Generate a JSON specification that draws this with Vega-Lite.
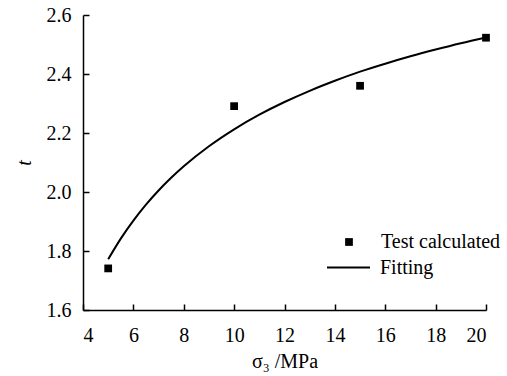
{
  "$schema": "https://vega.github.io/schema/vega-lite/v6.json",
  "width": 403,
  "height": 295,
  "autosize": {"type": "none"},
  "padding": {"left": 83, "top": 15, "right": 21, "bottom": 66},
  "background": "white",
  "config": {
    "view": {"stroke": null},
    "font": "Liberation Serif",
    "axis": {
      "domainColor": "black",
      "domainWidth": 1.5,
      "tickColor": "black",
      "tickWidth": 1.5,
      "tickSize": -6,
      "labelFont": "Liberation Serif",
      "labelFontSize": 20,
      "labelColor": "black",
      "grid": false,
      "titleFont": "Liberation Serif",
      "titleFontSize": 20,
      "titleColor": "black",
      "titleFontWeight": "normal"
    },
    "legend": {
      "labelFont": "Liberation Serif",
      "labelFontSize": 20,
      "labelColor": "black"
    }
  },
  "datasets": {
    "test": [
      {"sigma3": 5, "t": 1.741, "series": "Test calculated"},
      {"sigma3": 10, "t": 2.291, "series": "Test calculated"},
      {"sigma3": 15, "t": 2.36, "series": "Test calculated"},
      {"sigma3": 20, "t": 2.523, "series": "Test calculated"}
    ],
    "fit": [
      {"sigma3": 5, "t": 1.772, "series": "Fitting"},
      {"sigma3": 5.5, "t": 1.842, "series": "Fitting"},
      {"sigma3": 6, "t": 1.903, "series": "Fitting"},
      {"sigma3": 6.5, "t": 1.957, "series": "Fitting"},
      {"sigma3": 7, "t": 2.005, "series": "Fitting"},
      {"sigma3": 7.5, "t": 2.048, "series": "Fitting"},
      {"sigma3": 8, "t": 2.087, "series": "Fitting"},
      {"sigma3": 9, "t": 2.155, "series": "Fitting"},
      {"sigma3": 10, "t": 2.2125, "series": "Fitting"},
      {"sigma3": 11, "t": 2.262, "series": "Fitting"},
      {"sigma3": 12, "t": 2.305, "series": "Fitting"},
      {"sigma3": 13, "t": 2.343, "series": "Fitting"},
      {"sigma3": 14, "t": 2.377, "series": "Fitting"},
      {"sigma3": 15, "t": 2.408, "series": "Fitting"},
      {"sigma3": 16, "t": 2.435, "series": "Fitting"},
      {"sigma3": 17, "t": 2.46, "series": "Fitting"},
      {"sigma3": 18, "t": 2.483, "series": "Fitting"},
      {"sigma3": 19, "t": 2.5045, "series": "Fitting"},
      {"sigma3": 20, "t": 2.524, "series": "Fitting"}
    ]
  },
  "encoding": {
    "x": {
      "field": "sigma3",
      "type": "quantitative",
      "scale": {"domain": [4, 20], "nice": false, "zero": false},
      "axis": {"values": [4, 6, 8, 10, 12, 14, 16, 18, 20], "labelPadding": 21, "title": "σ₃ /MPa", "titlePadding": 6}
    },
    "y": {
      "field": "t",
      "type": "quantitative",
      "scale": {"domain": [1.6, 2.6], "nice": false, "zero": false},
      "axis": {"values": [1.6, 1.8, 2.0, 2.2, 2.4, 2.6], "format": ".1f", "labelPadding": 18, "title": "t", "titleFontStyle": "italic", "titlePadding": 12}
    }
  },
  "layer": [
    {
      "data": {"name": "fit"},
      "mark": {"type": "line", "strokeWidth": 2, "interpolate": "monotone"},
      "encoding": {
        "color": {
          "field": "series",
          "type": "nominal",
          "scale": {"range": ["black"]},
          "legend": {
            "title": null,
            "orient": "none",
            "legendX": 243,
            "legendY": 230,
            "symbolType": "stroke",
            "symbolSize": 1849,
            "symbolStrokeWidth": 2,
            "symbolStrokeColor": "black",
            "labelOffset": 9
          }
        }
      }
    },
    {
      "data": {"name": "test"},
      "mark": {"type": "point", "shape": "square", "filled": true, "size": 60, "opacity": 1, "color": "black"},
      "encoding": {
        "shape": {
          "field": "series",
          "type": "nominal",
          "scale": {"range": ["square"]},
          "legend": {
            "title": null,
            "orient": "none",
            "legendX": 256,
            "legendY": 217,
            "symbolSize": 60,
            "symbolFillColor": "black",
            "symbolStrokeColor": "black",
            "symbolOpacity": 1,
            "labelOffset": 22
          }
        }
      }
    }
  ]
}
